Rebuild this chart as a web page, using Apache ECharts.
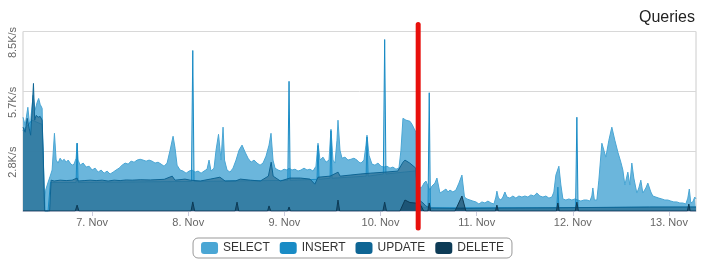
<!DOCTYPE html>
<html>
<head>
<meta charset="utf-8">
<script src="https://cdn.jsdelivr.net/npm/echarts@6/dist/echarts.min.js"></script>
<style>
html,body{margin:0;padding:0;background:#fff;}
#chart{width:705px;height:263px;}
</style>
</head>
<body>
<div id="chart"></div>
<script>
// Time values are hours since 6 Nov 00:00; values in queries/s
const seriesNames = ['SELECT', 'INSERT', 'UPDATE', 'DELETE'];
const yTickLabels = ['', '2.8K/s', '5.7K/s', '8.5K/s'];
const dayLabels = ['7. Nov', '8. Nov', '9. Nov', '10. Nov', '11. Nov', '12. Nov', '13. Nov'];
const markerHour = 105.4;

const selectData = [[6.75,4440],[7.29,4060],[7.96,4910],[8.54,3820],[8.78,4530],[9.28,5480],[9.78,4770],[10.28,5150],[10.66,5330],[11.03,5050],[11.53,4860],[11.90,280],[12.15,0],[12.40,990],[13.03,1370],[13.53,1650],[14.02,1940],[14.60,3680],[15.02,2410],[15.52,2270],[16.02,2500],[16.52,2360],[17.02,2450],[17.52,2310],[18.02,2410],[18.52,2270],[19.01,2170],[19.51,2220],[20.01,2500],[20.26,3210],[20.51,2410],[21.01,2170],[21.76,2270],[22.51,2080],[23.26,2120],[24.00,1940],[24.75,2030],[25.50,1840],[26.25,1940],[27.00,1790],[27.75,1890],[28.49,1750],[29.24,1840],[29.99,1940],[30.74,2030],[31.49,2170],[32.24,2270],[32.99,2220],[33.73,2360],[34.48,2310],[35.23,2410],[35.98,2450],[36.73,2410],[37.48,2360],[38.23,2410],[38.97,2360],[39.72,2270],[40.47,2310],[41.22,2220],[41.97,2120],[42.72,2270],[43.47,2880],[44.21,3540],[44.71,2970],[45.21,2170],[45.96,1940],[46.71,1890],[47.46,1790],[48.21,1890],[48.95,1940],[49.70,1840],[50.45,1890],[51.20,1790],[51.95,1890],[52.70,1980],[53.19,2410],[53.69,1890],[54.44,2030],[54.94,2880],[55.56,3630],[55.94,2880],[56.19,2410],[56.69,3970],[57.06,2410],[57.68,1940],[58.43,1840],[59.18,2030],[59.93,2410],[60.68,2880],[61.43,3120],[62.18,2790],[62.93,2500],[63.67,2310],[64.42,2410],[65.17,2270],[65.92,2170],[66.67,2270],[67.42,2600],[68.17,3120],[68.66,3680],[69.16,2410],[69.66,2030],[70.41,1940],[71.16,1890],[71.91,1980],[72.66,1940],[73.16,2030],[73.90,1940],[74.65,1980],[75.40,1890],[76.15,1940],[76.90,2030],[77.65,1940],[78.40,1980],[79.14,1890],[79.89,2120],[80.39,3210],[80.89,2410],[81.64,2550],[82.39,2310],[83.14,2410],[83.63,3870],[84.13,2410],[84.63,2270],[85.13,3350],[85.38,4300],[85.88,2880],[86.38,2500],[87.13,2550],[87.88,2410],[88.62,2450],[89.37,2500],[90.12,2410],[90.62,2310],[91.12,2270],[91.87,2410],[92.37,3120],[92.62,3590],[93.12,2640],[93.86,2220],[94.61,2170],[95.36,2270],[96.11,2120],[96.86,2080],[97.61,2120],[98.36,2030],[99.10,2080],[99.85,1980],[100.60,2030],[101.10,2880],[101.60,4390],[102.35,4300],[102.84,4340],[103.34,4250],[103.84,4110],[104.34,3920],[104.84,3730],[105.34,1460],[105.84,1090],[106.34,1130],[106.84,1320],[107.34,1420],[107.83,1180],[108.33,990],[108.83,1180],[109.58,1320],[110.08,1560],[110.83,850],[111.58,940],[112.33,1040],[112.83,900],[113.33,990],[114.07,900],[114.82,990],[115.57,1320],[116.32,1700],[116.95,660],[117.57,570],[118.32,520],[119.06,470],[119.81,430],[120.56,330],[121.31,430],[122.06,380],[122.81,470],[123.56,380],[124.31,330],[124.80,660],[125.05,940],[125.43,610],[126.05,520],[126.55,660],[127.05,900],[127.55,660],[128.30,610],[129.04,710],[129.79,610],[130.54,710],[131.29,660],[132.04,710],[132.79,660],[133.53,760],[134.28,710],[135.03,850],[135.78,710],[136.53,660],[137.28,710],[138.03,610],[138.77,660],[139.27,900],[139.77,1700],[140.52,2120],[141.02,1230],[141.52,570],[142.27,520],[143.02,570],[143.76,520],[144.51,570],[145.26,520],[146.01,470],[146.76,520],[147.51,520],[148.26,470],[148.75,710],[149.00,1090],[149.38,520],[150.00,520],[150.50,1460],[151.25,3210],[151.75,2880],[152.25,2550],[153.00,3350],[153.74,3970],[154.49,3350],[155.24,2790],[155.99,2310],[156.49,1940],[156.99,1230],[157.74,1840],[158.24,1230],[158.73,2270],[159.23,1560],[159.98,850],[160.48,1090],[160.98,1460],[161.48,850],[162.23,1090],[162.73,1320],[163.47,900],[163.97,710],[164.72,660],[165.47,610],[166.22,570],[166.97,520],[167.72,520],[168.46,470],[169.21,430],[169.96,430],[170.71,380],[171.46,380],[172.21,330],[172.71,610],[173.08,1040],[173.45,380],[173.95,430],[174.45,660],[174.75,570]];

const insertData = [[6.75,3800],[9.0,4300],[11.5,4100],[11.8,2500],[12.2,0],[13.0,0],[13.6,1350],[20.0,1350],[20.26,3210],[20.5,1350],[48.8,1400],[49.13,7600],[49.45,1400],[72.85,1450],[73.16,6140],[73.45,1450],[80.15,1500],[80.39,3100],[80.65,1500],[83.4,1550],[83.63,3800],[83.9,1550],[92.4,1650],[92.62,3500],[92.9,1650],[96.7,1750],[97.03,8120],[97.35,1750],[104.8,1900],[105.3,300],[107.0,150],[107.85,150],[108.16,5600],[108.45,150],[140.0,150],[140.27,1130],[140.55,150],[144.7,160],[145.01,4440],[145.3,160],[174.75,180]];

const updateData = [[6.75,3970],[7.29,3730],[7.79,4390],[8.28,3920],[8.66,3590],[9.03,4770],[9.36,6040],[9.66,4300],[10.03,4530],[10.53,4440],[11.03,4480],[11.53,4300],[11.78,2880],[12.15,0],[13.40,0],[13.77,1460],[14.52,1420],[16.02,1460],[17.52,1440],[19.01,1460],[20.26,1560],[20.51,1420],[22.01,1440],[23.51,1460],[25.0,1440],[26.5,1460],[28.0,1420],[29.5,1460],[31.0,1440],[32.5,1470],[34.0,1460],[36.0,1480],[38.5,1470],[42.0,1500],[44.0,1650],[44.7,1460],[47.2,1510],[48.5,1460],[51.0,1420],[53.5,1510],[55.9,1600],[57.2,1420],[59.9,1430],[61.0,1510],[63.5,1460],[66.0,1420],[68.0,1650],[68.7,2310],[69.2,1650],[71.0,1420],[73.4,1560],[76.0,1560],[78.4,1510],[79.6,1270],[80.4,1600],[83.4,1650],[85.4,1840],[85.9,1650],[88.4,1700],[90.9,1750],[93.4,1790],[97.1,1840],[100.3,1890],[101.6,2310],[102.1,2410],[103.3,2270],[104.8,2030],[105.3,520],[105.8,500],[106.6,380],[107.3,240],[108.3,140],[115.9,120],[125.8,140],[138.3,150],[150.8,170],[163.2,190],[174.75,190]];

const deleteData = [[6.75,0],[19.8,0],[20.26,280],[20.7,0],[48.7,0],[49.13,430],[49.6,0],[59.7,0],[60.18,420],[60.6,0],[67.8,0],[68.17,240],[68.6,0],[72.8,0],[73.16,190],[73.5,0],[85.0,0],[85.38,520],[85.8,0],[96.6,0],[97.03,420],[97.5,0],[100.85,0],[102.1,520],[103.35,400],[104.6,380],[105.84,330],[106.8,0],[107.8,0],[108.16,380],[108.5,0],[114.6,0],[116.32,710],[117.3,0],[124.7,0],[125.05,280],[125.4,0],[139.9,0],[140.27,380],[140.6,0],[144.6,0],[145.01,420],[145.4,0],[172.6,0],[172.96,330],[173.3,0],[174.75,0]];

const base = new Date(2023, 10, 6).getTime();
const H = 3600 * 1000;
const toTime = arr => arr.map(p => [base + p[0] * H, p[1]]);

const colors = ['#4aa6d4', '#198bc5', '#0e6594', '#0d3b56'];
const areaColors = ['#4aa6d4', '#198bc5', '#2f6f92', '#0d3b56'];
const areaOpacity = [0.82, 0.4, 0.7, 0.6];
const font = 'Liberation Sans, Arial, Helvetica, sans-serif';
const allData = [selectData, insertData, updateData, deleteData];

const chart = echarts.init(document.getElementById('chart'), null, {renderer: 'canvas'});
const option = {
  animation: false,
  textStyle: {fontFamily: font},
  title: {
    text: 'Queries', right: 5, top: 5,
    textStyle: {fontSize: 16, fontWeight: 'normal', color: '#222', fontFamily: font}
  },
  legend: {
    bottom: 5, left: 'center',
    data: seriesNames,
    icon: 'roundRect', itemWidth: 17, itemHeight: 12, itemGap: 10,
    borderColor: '#999', borderWidth: 1, borderRadius: 5,
    padding: [4, 8, 4, 8],
    textStyle: {fontSize: 12, color: '#333', fontFamily: font}
  },
  grid: {left: 23, right: 9, top: 31.5, bottom: 52, show: true, borderColor: '#ccc', borderWidth: 1},
  xAxis: {
    type: 'time',
    min: base + 6.75 * H, max: base + 174.75 * H,
    minInterval: 24 * H, maxInterval: 24 * H,
    splitLine: {show: false},
    axisLine: {lineStyle: {color: '#ccd'}},
    axisTick: {show: true, length: 5, lineStyle: {color: '#ccd'}},
    axisLabel: {
      color: '#666', fontSize: 11, fontFamily: font, margin: 6,
      showMinLabel: false, showMaxLabel: false,
      formatter: v => {
        const d = new Date(v);
        const idx = Math.round((v - base) / (24 * H)) - 1;
        if (d.getHours() !== 0 || idx < 0 || idx >= dayLabels.length) return '';
        return dayLabels[idx];
      }
    }
  },
  yAxis: {
    type: 'value', min: 0, max: 8500, interval: 8500 / 3,
    axisLine: {show: false},
    splitLine: {lineStyle: {color: '#d8d8d8'}},
    axisLabel: {
      color: '#666', fontSize: 11, fontFamily: font, rotate: 90, margin: 10,
      align: 'center', verticalAlign: 'middle', padding: [0, 22, 0, 0],
      formatter: v => yTickLabels[Math.round(v / (8500 / 3))] || ''
    }
  },
  series: seriesNames.map((name, i) => ({
    name, type: 'line', showSymbol: false, symbol: 'none',
    data: toTime(allData[i]),
    itemStyle: {color: colors[i]},
    lineStyle: {width: 1, color: colors[i]},
    areaStyle: {color: areaColors[i], opacity: areaOpacity[i]},
    z: 2 + i
  }))
};
chart.setOption(option);

const xPix = chart.convertToPixel({xAxisIndex: 0}, base + markerHour * H);
const yTop = chart.convertToPixel({yAxisIndex: 0}, 8500);
const yBot = chart.convertToPixel({yAxisIndex: 0}, 0);
chart.setOption({
  graphic: [{
    type: 'line', z: 100,
    shape: {x1: xPix, y1: yTop - 7, x2: xPix, y2: yBot + 17},
    style: {stroke: '#e8100c', lineWidth: 5, lineCap: 'round'}
  }]
});
</script>
</body>
</html>
